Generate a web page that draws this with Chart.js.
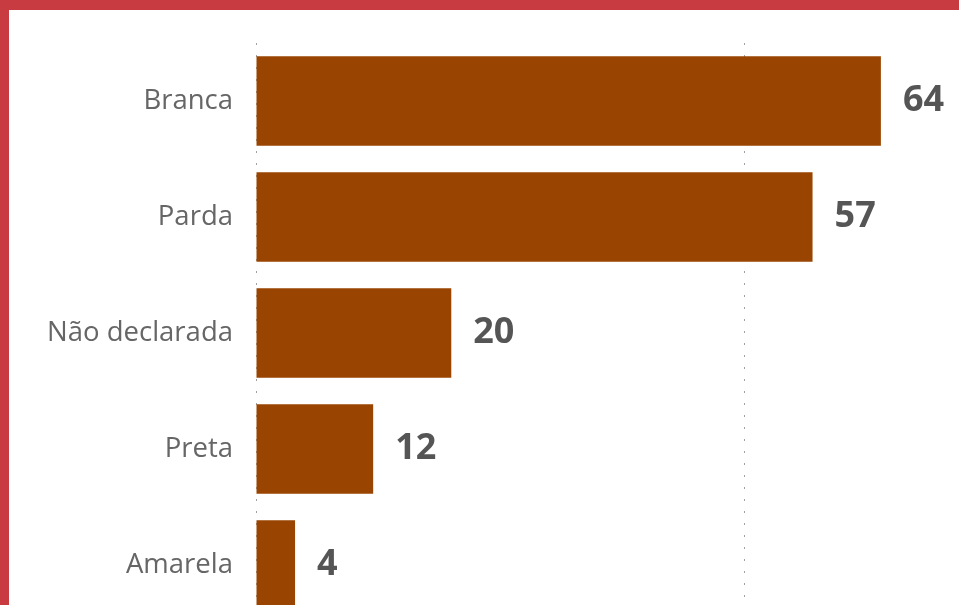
<!DOCTYPE html>
<html lang="pt-BR">
<head>
<meta charset="utf-8">
<title>Cor/raça</title>
<script src="https://cdn.jsdelivr.net/npm/chart.js@4/dist/chart.umd.min.js"></script>
<style>
  html, body { margin: 0; padding: 0; width: 959px; height: 605px; overflow: hidden; background: #c73b41; }
  #panel { position: absolute; left: 9px; top: 10px; width: 950px; height: 620px; background: #ffffff; }
  #chart { display: block; }
</style>
</head>
<body>
<div id="panel"><canvas id="chart" width="950" height="620"></canvas></div>
<script>
// Contagem por cor/raça
const categories = ['Branca', 'Parda', 'Não declarada', 'Preta', 'Amarela'];
const counts = [64, 57, 20, 12, 4];
const gridTicks = [0, 50];

const BAR_COLOR = '#994400';

// Writes each bar's value just past its end
const valueLabels = {
  id: 'valueLabels',
  afterDatasetsDraw(chart) {
    const { ctx } = chart;
    const meta = chart.getDatasetMeta(0);
    ctx.save();
    ctx.font = 'bold 36px "Open Sans", sans-serif';
    ctx.fillStyle = '#555555';
    ctx.textAlign = 'left';
    ctx.textBaseline = 'middle';
    meta.data.forEach((bar, i) => {
      ctx.fillText(String(chart.data.datasets[0].data[i]), bar.x + 22, bar.y);
    });
    ctx.restore();
  }
};

new Chart(document.getElementById('chart'), {
  type: 'bar',
  data: {
    labels: categories,
    datasets: [{
      data: counts,
      backgroundColor: BAR_COLOR,
      borderWidth: 0,
      categoryPercentage: 0.77,
      barPercentage: 1
    }]
  },
  options: {
    indexAxis: 'y',
    responsive: false,
    animation: false,
    devicePixelRatio: 1,
    layout: { padding: { top: 33, bottom: 7, left: 0, right: 0 } },
    plugins: { legend: { display: false }, tooltip: { enabled: false } },
    scales: {
      x: {
        min: 0,
        max: 72,
        afterBuildTicks(scale) { scale.ticks = gridTicks.map(v => ({ value: v })); },
        afterFit(scale) { scale.height = 0; },
        ticks: { display: false },
        border: { display: false, dash: [2, 10] },
        grid: { color: '#a0a0a0', lineWidth: 1, drawTicks: false }
      },
      y: {
        afterFit(scale) { scale.width = 247; scale.paddingTop = 0; scale.paddingBottom = 0; },
        border: { display: false },
        grid: { display: false, drawTicks: false },
        ticks: {
          padding: 23,
          color: '#666666',
          font: { family: '"Open Sans", sans-serif', size: 27.5 }
        }
      }
    }
  },
  plugins: [valueLabels]
});
</script>
</body>
</html>
